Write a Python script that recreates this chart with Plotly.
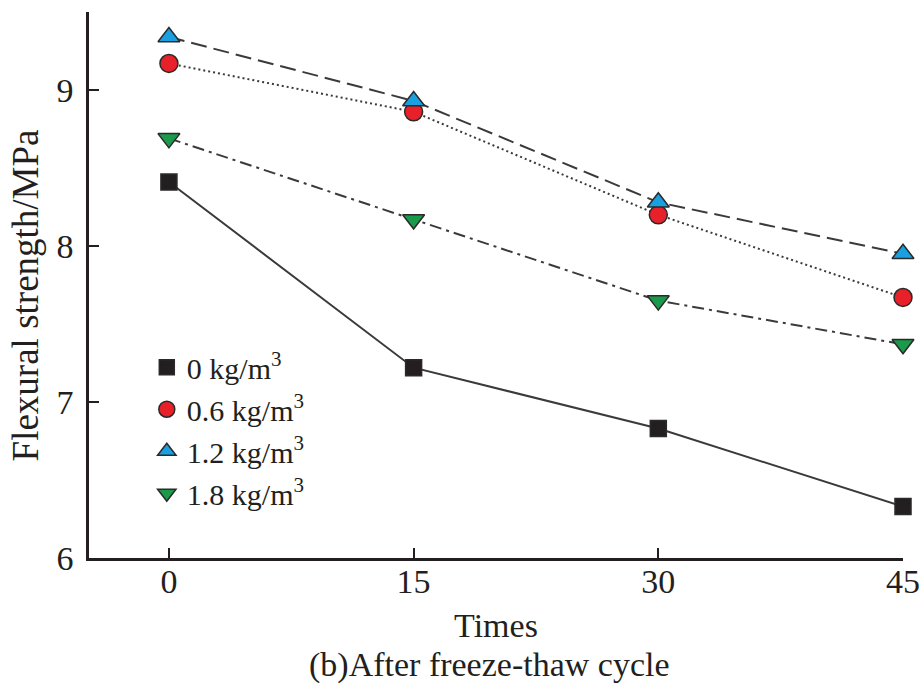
import plotly.graph_objects as go

times = [0, 15, 30, 45]
s0 = [8.41, 7.22, 6.83, 6.33]
s06 = [9.17, 8.86, 8.20, 7.67]
s12 = [9.34, 8.93, 8.28, 7.95]
s18 = [8.69, 8.17, 7.65, 7.37]
names = ["0 kg/m<sup>3</sup>", "0.6 kg/m<sup>3</sup>", "1.2 kg/m<sup>3</sup>", "1.8 kg/m<sup>3</sup>"]
ytickvals = [6, 7, 8, 9, 9.5]
yticktext = ["6", "7", "8", "9", ""]
xtickvals = [0, 15, 30, 45]

FONT = "Liberation Serif"
LINE = "#3a3a3a"
EDGE = "#2a2a2a"
TXT = "#231f20"

specs = [
    (s0, names[0], "square", "#231f20", "solid", 16),
    (s06, names[1], "circle", "#e8202a", "2px,3px", 18),
    (s12, names[2], "triangle-up", "#1aa0e0", "16px,7px", 19),
    (s18, names[3], "triangle-down", "#1a9a4a", "12px,5px,3px,5px", 19),
]

fig = go.Figure()
for i, (vals, name, sym, col, dash, sz) in enumerate(specs):
    fig.add_trace(go.Scatter(
        x=times, y=vals, name=name, mode="lines+markers", showlegend=False,
        line=dict(color=LINE, width=2, dash=dash),
        marker=dict(symbol=sym, size=sz, color=col, line=dict(color=EDGE, width=1.5)),
        cliponaxis=False,
    ))
for i, (vals, name, sym, col, dash, sz) in enumerate(specs):
    fig.add_trace(go.Scatter(
        x=[None], y=[None], name=name, mode="markers", showlegend=True,
        marker=dict(symbol=sym, size=sz - 1, color=col, line=dict(color=EDGE, width=1.5)),
        legendgroup=f"g{i}",
    ))

fig.update_layout(
    width=922, height=684,
    margin=dict(l=89, r=19, t=12, b=126),
    paper_bgcolor="white", plot_bgcolor="white",
    font=dict(family=FONT, size=34, color=TXT),
    showlegend=True,
    legend=dict(x=0.071, y=0.397, xanchor="left", yanchor="top",
                font=dict(family=FONT, size=30, color=TXT),
                bgcolor="rgba(0,0,0,0)", tracegroupgap=0, traceorder="grouped",
                itemwidth=30),
    xaxis=dict(range=[-4.9, 45], tickvals=xtickvals, ticks="inside", ticklen=10,
               tickwidth=2, tickcolor=TXT, showline=True, linecolor=TXT,
               linewidth=2.5, showgrid=False, zeroline=False, automargin=False,
               tickfont=dict(size=34), ticklabelstandoff=-9,
               title=dict(text="Times", font=dict(size=34), standoff=15)),
    yaxis=dict(range=[6, 9.5], tickvals=ytickvals, ticktext=yticktext, ticks="inside",
               ticklen=10, tickwidth=2, tickcolor=TXT, showline=True,
               linecolor=TXT, linewidth=2.5, showgrid=False, zeroline=False,
               automargin=False, tickfont=dict(size=34), ticklabelstandoff=6),
    annotations=[
        dict(text="(b)After freeze-thaw cycle", xref="paper", yref="paper",
             x=0.492, y=-0.196, xanchor="center", yanchor="middle",
             showarrow=False, font=dict(family=FONT, size=34, color=TXT)),
        dict(text="Flexural strength/MPa", xref="paper", yref="paper",
             x=-0.078, y=0.48, xanchor="center", yanchor="middle", textangle=-90,
             showarrow=False, font=dict(family=FONT, size=37, color=TXT)),
    ],
)

fig.write_html(
    "out.html",
    config={"displayModeBar": False},
    post_script="document.body.style.margin='0';document.body.style.overflow='hidden';"
                "document.documentElement.style.overflow='hidden';",
)
